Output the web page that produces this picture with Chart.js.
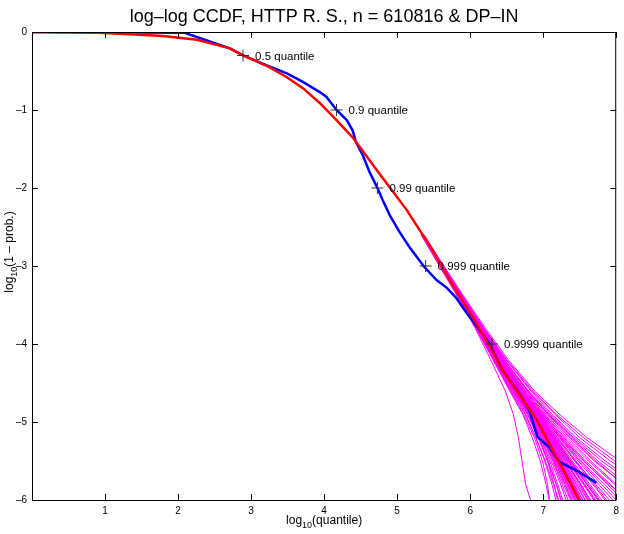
<!DOCTYPE html>
<html lang="en">
<head>
  <meta charset="UTF-8" />
  <title>log-log CCDF, HTTP R. S.</title>
  <script src="https://cdn.jsdelivr.net/npm/chart.js"></script>
  <style>
    body { margin: 0; background: #fff; }
    canvas { display: block; }
  </style>
</head>
<body>
  <canvas id="ccdfChart" width="624" height="534"></canvas>

  <script>
    // empirical log-log CCDF of the data (blue)
    const dataX = [0, 2.09, 2.71, 2.89, 3.25, 3.49, 3.71, 3.94, 4.03, 4.17, 4.31, 4.39, 4.44, 4.53, 4.62,
                   4.73, 4.80, 4.90, 5.03, 5.17, 5.37, 5.54, 5.68, 5.81, 5.95, 6.13, 6.26, 6.44, 6.67,
                   6.81, 6.92, 7.08, 7.22, 7.49, 7.73];
    const dataY = [0, -0.01, -0.21, -0.30, -0.44, -0.53, -0.64, -0.77, -0.83, -1.00, -1.13, -1.26, -1.42, -1.58, -1.79,
                   -2.00, -2.15, -2.35, -2.56, -2.76, -3.01, -3.18, -3.28, -3.41, -3.60, -3.82, -3.99, -4.33, -4.63,
                   -4.85, -5.19, -5.32, -5.51, -5.64, -5.78];

    // fitted DP-IN model (red)
    const fitX = [0, 0.90, 1.34, 1.79, 2.26, 2.71, 2.89, 3.25, 3.49, 3.71, 3.94, 4.17, 4.39, 4.62, 4.72,
                  5.13, 5.48, 5.72, 6.03, 6.30, 6.44, 6.91, 7.15, 7.38, 7.60];
    const fitY = [0, -0.01, -0.03, -0.05, -0.10, -0.21, -0.30, -0.45, -0.58, -0.72, -0.91, -1.13, -1.35, -1.64, -1.77,
                  -2.28, -2.79, -3.18, -3.65, -4.08, -4.33, -4.97, -5.40, -5.80, -6.20];

    // simulated runs from the model (magenta): x at each level of log10(1 - prob.)
    const simLevels = [-2.6, -3.0, -3.4, -3.8, -4.2, -4.6, -4.9, -5.2, -5.5, -5.8, -6.1];
    const simRuns = [
      [5.36, 5.63, 5.90, 6.16, 6.43, 6.74, 7.00, 7.25, 7.55, 7.90, 8.30],
      [5.34, 5.60, 5.85, 6.09, 6.33, 6.57, 6.76, 6.90, 7.02, 7.12, 7.20],
      [5.35, 5.62, 5.89, 6.17, 6.46, 6.80, 7.10, 7.42, 7.80, 8.25, 8.70],
      [5.33, 5.59, 5.84, 6.08, 6.31, 6.54, 6.72, 6.85, 6.96, 7.04, 7.10],
      [5.36, 5.61, 5.88, 6.14, 6.40, 6.69, 6.93, 7.15, 7.38, 7.60, 7.82],
      [5.34, 5.60, 5.86, 6.11, 6.35, 6.61, 6.82, 6.98, 7.14, 7.28, 7.42],
      [5.37, 5.64, 5.92, 6.21, 6.52, 6.88, 7.22, 7.60, 8.05, 8.60, 9.00],
      [5.35, 5.61, 5.86, 6.11, 6.36, 6.63, 6.85, 7.03, 7.20, 7.36, 7.52],
      [5.34, 5.59, 5.85, 6.09, 6.32, 6.55, 6.73, 6.88, 6.99, 7.06, 7.10],
      [5.36, 5.62, 5.88, 6.14, 6.39, 6.67, 6.90, 7.10, 7.30, 7.50, 7.68],
      [5.35, 5.62, 5.89, 6.16, 6.44, 6.75, 7.02, 7.30, 7.62, 7.98, 8.35],
      [5.35, 5.60, 5.86, 6.12, 6.37, 6.64, 6.87, 7.06, 7.24, 7.42, 7.60],
      [5.33, 5.58, 5.84, 6.09, 6.34, 6.60, 6.81, 6.97, 7.11, 7.24, 7.35],
      [5.36, 5.63, 5.91, 6.19, 6.49, 6.84, 7.16, 7.50, 7.92, 8.40, 8.90],
      [5.35, 5.61, 5.87, 6.13, 6.38, 6.65, 6.88, 7.07, 7.26, 7.45, 7.63],
      [5.34, 5.61, 5.87, 6.12, 6.39, 6.68, 6.94, 7.18, 7.44, 7.72, 8.00],
      [5.35, 5.60, 5.85, 6.10, 6.34, 6.61, 6.83, 7.00, 7.15, 7.30, 7.44],
      [5.36, 5.62, 5.89, 6.16, 6.43, 6.72, 6.98, 7.22, 7.48, 7.76, 8.05],
      [5.35, 5.61, 5.88, 6.14, 6.41, 6.70, 6.95, 7.17, 7.40, 7.64, 7.88],
      [5.34, 5.59, 5.85, 6.11, 6.36, 6.62, 6.84, 7.01, 7.16, 7.30, 7.43],
      [5.35, 5.62, 5.90, 6.17, 6.46, 6.78, 7.06, 7.36, 7.70, 8.10, 8.50],
      [5.34, 5.60, 5.86, 6.10, 6.35, 6.60, 6.80, 6.95, 7.06, 7.15, 7.22],
      [5.36, 5.63, 5.90, 6.19, 6.50, 6.86, 7.18, 7.55, 7.98, 8.50, 9.00],
      [5.35, 5.61, 5.87, 6.12, 6.38, 6.66, 6.90, 7.11, 7.33, 7.55, 7.76],
      [5.33, 5.58, 5.83, 6.07, 6.28, 6.48, 6.59, 6.66, 6.71, 6.76, 6.86],
      [5.36, 5.62, 5.88, 6.15, 6.41, 6.70, 6.97, 7.23, 7.50, 7.80, 8.10],
      [5.35, 5.60, 5.86, 6.11, 6.36, 6.64, 6.86, 7.05, 7.22, 7.40, 7.58],
      [5.36, 5.63, 5.91, 6.19, 6.49, 6.83, 7.12, 7.45, 7.85, 8.30, 8.80],
      [5.34, 5.60, 5.86, 6.12, 6.37, 6.63, 6.85, 7.02, 7.18, 7.33, 7.48],
      [5.35, 5.61, 5.88, 6.14, 6.40, 6.69, 6.94, 7.16, 7.38, 7.62, 7.85],
      [5.35, 5.61, 5.87, 6.12, 6.36, 6.62, 6.83, 6.99, 7.13, 7.26, 7.38],
      [5.36, 5.62, 5.89, 6.15, 6.42, 6.71, 6.96, 7.20, 7.45, 7.70, 7.95],
      [5.34, 5.60, 5.85, 6.10, 6.35, 6.62, 6.85, 7.04, 7.23, 7.41, 7.57],
      [5.35, 5.62, 5.88, 6.15, 6.42, 6.72, 6.99, 7.26, 7.56, 7.88, 8.20],
      [5.35, 5.61, 5.87, 6.13, 6.39, 6.66, 6.89, 7.09, 7.28, 7.48, 7.67],
      [5.34, 5.59, 5.84, 6.08, 6.32, 6.56, 6.75, 6.90, 7.03, 7.14, 7.25],
      [5.36, 5.63, 5.90, 6.17, 6.45, 6.76, 7.04, 7.33, 7.65, 8.00, 8.40],
      [5.35, 5.60, 5.86, 6.11, 6.37, 6.65, 6.88, 7.08, 7.27, 7.46, 7.64],
      [5.35, 5.61, 5.88, 6.14, 6.40, 6.68, 6.92, 7.13, 7.35, 7.57, 7.79],
      [5.34, 5.60, 5.86, 6.11, 6.35, 6.60, 6.81, 6.96, 7.09, 7.20, 7.30],
      [5.35, 5.61, 5.87, 6.13, 6.38, 6.66, 6.91, 7.12, 7.31, 7.52, 7.70],
      [5.34, 5.60, 5.86, 6.11, 6.36, 6.63, 6.86, 7.04, 7.19, 7.35, 7.50],
      [5.36, 5.62, 5.89, 6.15, 6.42, 6.71, 6.97, 7.24, 7.52, 7.84, 8.15],
      [5.35, 5.61, 5.87, 6.12, 6.37, 6.65, 6.89, 7.09, 7.30, 7.51, 7.72],
      [5.34, 5.60, 5.85, 6.10, 6.34, 6.59, 6.79, 6.94, 7.07, 7.18, 7.27],
      [5.35, 5.62, 5.88, 6.14, 6.41, 6.69, 6.93, 7.14, 7.36, 7.60, 7.84],
      [5.36, 5.63, 5.90, 6.18, 6.47, 6.79, 7.08, 7.40, 7.75, 8.15, 8.55],
      [5.35, 5.60, 5.86, 6.12, 6.37, 6.64, 6.87, 7.05, 7.23, 7.40, 7.56],
      [5.34, 5.59, 5.85, 6.10, 6.35, 6.61, 6.83, 7.00, 7.17, 7.32, 7.46],
      [5.35, 5.61, 5.88, 6.14, 6.40, 6.68, 6.92, 7.13, 7.34, 7.56, 7.78],
      [5.36, 5.62, 5.89, 6.16, 6.44, 6.74, 7.01, 7.28, 7.58, 7.92, 8.25],
      [5.35, 5.61, 5.87, 6.12, 6.38, 6.65, 6.88, 7.07, 7.25, 7.43, 7.60],
      [5.34, 5.60, 5.86, 6.11, 6.36, 6.62, 6.84, 7.02, 7.18, 7.34, 7.49],
      [5.35, 5.61, 5.88, 6.15, 6.42, 6.71, 6.96, 7.19, 7.43, 7.68, 7.93],
      [5.35, 5.60, 5.85, 6.10, 6.35, 6.62, 6.85, 7.03, 7.20, 7.37, 7.53],
      [5.36, 5.62, 5.88, 6.14, 6.40, 6.68, 6.93, 7.15, 7.37, 7.60, 7.83],
      [5.34, 5.59, 5.84, 6.09, 6.33, 6.58, 6.78, 6.93, 7.06, 7.18, 7.28],
      [5.35, 5.61, 5.87, 6.13, 6.39, 6.67, 6.91, 7.11, 7.31, 7.51, 7.71],
      [5.36, 5.63, 5.91, 6.18, 6.47, 6.78, 7.07, 7.38, 7.72, 8.10, 8.50],
      [5.35, 5.60, 5.86, 6.11, 6.36, 6.63, 6.86, 7.05, 7.22, 7.39, 7.55]
    ];

    // marked quantiles
    const quantileNames = ['0.5 quantile', '0.9 quantile', '0.99 quantile', '0.999 quantile', '0.9999 quantile'];
    const quantileX = [2.89, 4.17, 4.73, 5.39, 6.30];
    const quantileY = [-0.301, -1, -2, -3, -4];

    const xTicks = [1, 2, 3, 4, 5, 6, 7, 8];
    const yTicks = [0, -1, -2, -3, -4, -5, -6];

    const FONT = '"Liberation Sans", Arial, Helvetica, sans-serif';

    function pairs(xs, ys) {
      return xs.map((x, i) => ({ x: x, y: ys[i] }));
    }

    const datasets = [];
    datasets.push({
      label: 'quantiles',
      data: pairs(quantileX, quantileY),
      showLine: false,
      pointStyle: 'cross',
      pointRadius: 6,
      pointBorderColor: '#333333',
      pointBorderWidth: 1,
      order: 0
    });
    datasets.push({
      label: 'DP-IN fit',
      data: pairs(fitX, fitY),
      showLine: true,
      borderColor: '#ff0000',
      borderWidth: 2.5,
      pointRadius: 0,
      order: 1
    });
    datasets.push({
      label: 'HTTP R. S.',
      data: pairs(dataX, dataY),
      showLine: true,
      borderColor: '#0000ff',
      borderWidth: 2.5,
      pointRadius: 0,
      order: 2
    });
    simRuns.forEach((run, i) => {
      datasets.push({
        label: 'sim ' + (i + 1),
        data: pairs(run, simLevels),
        showLine: true,
        borderColor: '#ff00ff',
        borderWidth: 1,
        pointRadius: 0,
        order: 3
      });
    });

    // MATLAB style: box, ticks pointing inward, subscript axis labels, quantile notes
    const matlabAxes = {
      id: 'matlabAxes',
      afterDraw(chart) {
        const ctx = chart.ctx;
        const area = chart.chartArea;
        const xs = chart.scales.x;
        const ys = chart.scales.y;
        ctx.save();

        ctx.strokeStyle = '#000';
        ctx.lineWidth = 1;
        ctx.strokeRect(area.left + 0.5, area.top + 0.5, area.right - area.left - 1, area.bottom - area.top);

        ctx.beginPath();
        xTicks.forEach(v => {
          const px = Math.round(xs.getPixelForValue(v)) + 0.5;
          ctx.moveTo(px, area.bottom); ctx.lineTo(px, area.bottom - 6);
          ctx.moveTo(px, area.top); ctx.lineTo(px, area.top + 6);
        });
        yTicks.forEach(v => {
          const py = Math.round(ys.getPixelForValue(v)) + 0.5;
          ctx.moveTo(area.left, py); ctx.lineTo(area.left + 6, py);
          ctx.moveTo(area.right, py); ctx.lineTo(area.right - 6, py);
        });
        ctx.stroke();

        // quantile notes
        ctx.fillStyle = '#000';
        ctx.font = '11.5px ' + FONT;
        ctx.textBaseline = 'middle';
        ctx.textAlign = 'left';
        quantileNames.forEach((name, i) => {
          ctx.fillText(name, xs.getPixelForValue(quantileX[i]) + 12, ys.getPixelForValue(quantileY[i]) + 1);
        });

        // axis titles with subscript
        function subText(parts, cx, cy) {
          let w = 0;
          parts.forEach(p => { ctx.font = (p.sub ? '9px ' : '12px ') + FONT; w += ctx.measureText(p.t).width; });
          let x = cx - w / 2;
          parts.forEach(p => {
            ctx.font = (p.sub ? '9px ' : '12px ') + FONT;
            ctx.fillText(p.t, x, cy + (p.sub ? 4 : 0));
            x += ctx.measureText(p.t).width;
          });
        }
        ctx.textBaseline = 'alphabetic';
        subText([{ t: 'log' }, { t: '10', sub: true }, { t: '(quantile)' }], (area.left + area.right) / 2, 524);

        ctx.translate(13, 252);
        ctx.rotate(-Math.PI / 2);
        subText([{ t: 'log' }, { t: '10', sub: true }, { t: '(1 \u2013 prob.)' }], 0, 0);

        ctx.restore();
      }
    };

    new Chart(document.getElementById('ccdfChart'), {
      type: 'scatter',
      data: { datasets: datasets },
      plugins: [matlabAxes],
      options: {
        responsive: false,
        animation: false,
        layout: { padding: { top: 0, right: 7, left: 0, bottom: 0 } },
        plugins: {
          legend: { display: false },
          tooltip: { enabled: false },
          title: {
            display: true,
            fullSize: false,
            text: 'log\u2013log CCDF, HTTP R. S., n = 610816 & DP\u2013IN',
            color: '#000',
            font: { family: FONT, size: 18, weight: 'normal', lineHeight: 1.2 },
            padding: { top: 6, bottom: 4.4 }
          }
        },
        scales: {
          x: {
            type: 'linear',
            min: 0,
            max: 8,
            afterBuildTicks: s => { s.ticks = xTicks.map(v => ({ value: v })); },
            afterFit: s => { s.height = 34; },
            grid: { drawOnChartArea: false, drawTicks: false },
            border: { display: false },
            ticks: {
              color: '#000',
              padding: 5,
              maxRotation: 0,
              font: { family: FONT, size: 10 },
              callback: v => String(v)
            }
          },
          y: {
            type: 'linear',
            min: -6,
            max: 0,
            afterBuildTicks: s => { s.ticks = yTicks.map(v => ({ value: v })); },
            afterFit: s => { s.width = 32; },
            grid: { drawOnChartArea: false, drawTicks: false },
            border: { display: false },
            ticks: {
              color: '#000',
              padding: 5,
              font: { family: FONT, size: 10 },
              callback: v => String(v).replace('-', '\u2013')
            }
          }
        }
      }
    });
  </script>
</body>
</html>
